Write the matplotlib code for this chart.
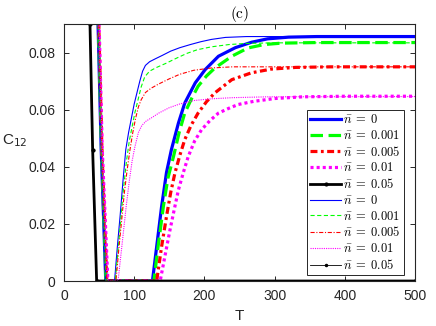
import matplotlib
matplotlib.use("Agg")
import matplotlib.pyplot as plt

plt.rcParams['font.family'] = ['Liberation Sans', 'DejaVu Sans']
plt.rcParams['mathtext.fontset'] = 'cm'
plt.rcParams['lines.scale_dashes'] = False

# ---------------- data ----------------
labels = [r'$\bar{n}\;=\;0$', r'$\bar{n}\;=\;0.001$', r'$\bar{n}\;=\;0.005$',
          r'$\bar{n}\;=\;0.01$', r'$\bar{n}\;=\;0.05$']

# low-temperature descending branch (shared by both curve families)
T_desc_0 = [47.0, 48.5, 53.0, 59.5]
C_desc_0 = [0.105, 0.090, 0.046, 0.0]
T_desc_1 = [47.5, 49.0, 53.5, 60.0]
C_desc_1 = [0.105, 0.090, 0.046, 0.0]
T_desc_5 = [48.0, 49.5, 54.0, 61.0]
C_desc_5 = [0.105, 0.090, 0.046, 0.0]
T_desc_10 = [48.5, 50.0, 54.5, 62.5]
C_desc_10 = [0.105, 0.090, 0.046, 0.0]
T_desc_50 = [35.5, 37.0, 40.8, 46.5]
C_desc_50 = [0.105, 0.090, 0.046, 0.0]

# thick curves (late revival)
T_thick_0 = [126, 132, 139, 146, 153, 163, 172, 187, 201, 220, 244, 267, 290, 320, 360, 500]
C_thick_0 = [0.0, 0.012, 0.026, 0.038, 0.046, 0.0553, 0.0623, 0.0694, 0.074, 0.0787,
             0.0817, 0.0836, 0.0848, 0.0854, 0.0856, 0.0856]
T_thick_1 = [128, 134, 141.5, 148, 156, 164, 172, 182, 191, 203, 215, 239, 262, 285, 310, 360, 500]
C_thick_1 = [0.0, 0.012, 0.026, 0.036, 0.0436, 0.052, 0.0588, 0.064, 0.0682, 0.0718,
             0.0746, 0.0787, 0.0816, 0.0828, 0.0833, 0.0835, 0.0835]
T_thick_5 = [132, 139, 146, 152, 158, 165, 172, 181, 191, 203, 215, 239, 267, 295, 330, 380, 500]
C_thick_5 = [0.0, 0.012, 0.0226, 0.031, 0.0378, 0.044, 0.0495, 0.0545, 0.0588, 0.0628,
             0.0659, 0.0705, 0.0729, 0.0742, 0.0748, 0.075, 0.075]
T_thick_10 = [137, 144, 151, 157, 163, 170, 177, 186, 196, 208, 220, 235, 248, 270, 300, 340, 400, 500]
C_thick_10 = [0.0, 0.009, 0.0179, 0.025, 0.0319, 0.038, 0.0436, 0.049, 0.053, 0.0562,
              0.0588, 0.0605, 0.0618, 0.0629, 0.0639, 0.0645, 0.0647, 0.0647]
T_thick_50 = [500]
C_thick_50 = [0.0]

# thin curves (early revival)
T_thin_0 = [72, 76, 80, 84, 88, 92, 96, 100, 104, 108, 112, 116, 122, 130, 140, 152,
            165, 180, 195, 210, 230, 260, 500]
C_thin_0 = [0.0, 0.012, 0.023, 0.035, 0.046, 0.052, 0.057, 0.062, 0.066, 0.070, 0.0735,
            0.0755, 0.0768, 0.0778, 0.079, 0.0805, 0.0817, 0.0828, 0.0838, 0.0846,
            0.0853, 0.0856, 0.0856]
T_thin_1 = [73, 77, 81, 85, 89, 93, 97, 101, 105, 110, 115, 122, 132, 145, 160, 175,
            190, 210, 235, 260, 300, 500]
C_thin_1 = [0.0, 0.011, 0.022, 0.033, 0.042, 0.049, 0.054, 0.059, 0.063, 0.068, 0.0715,
            0.0735, 0.0748, 0.0762, 0.078, 0.0797, 0.081, 0.082, 0.0828, 0.0832,
            0.0834, 0.0834]
T_thin_5 = [74, 78, 82, 86, 90, 94, 98, 102, 106, 110, 116, 124, 135, 150, 165, 185,
            210, 240, 500]
C_thin_5 = [0.0, 0.011, 0.021, 0.031, 0.039, 0.046, 0.052, 0.057, 0.061, 0.0635, 0.066,
            0.0675, 0.069, 0.0708, 0.0724, 0.0738, 0.0746, 0.075, 0.075]
T_thin_10 = [77, 81, 85, 89, 93, 97, 101, 106, 111, 117, 125, 135, 150, 165, 185, 210,
             240, 290, 500]
C_thin_10 = [0.0, 0.009, 0.018, 0.027, 0.035, 0.042, 0.047, 0.052, 0.0545, 0.056,
             0.0572, 0.0588, 0.0607, 0.062, 0.0632, 0.0638, 0.0642, 0.0645, 0.0646]
T_thin_50 = [500]
C_thin_50 = [0.0]

x_ticks = [0, 100, 200, 300, 400, 500]
y_ticks = [0, 0.02, 0.04, 0.06, 0.08]
y_ticklabels = ['0', '0.02', '0.04', '0.06', '0.08']

# ---------------- plotting ----------------
fig = plt.figure(figsize=(4.36, 3.26), dpi=100)
ax = fig.add_axes([0.1468, 0.138, 0.805, 0.7884])

desc = [(T_desc_0, C_desc_0), (T_desc_1, C_desc_1), (T_desc_5, C_desc_5),
        (T_desc_10, C_desc_10), (T_desc_50, C_desc_50)]
thick = [(T_thick_0, C_thick_0), (T_thick_1, C_thick_1), (T_thick_5, C_thick_5),
         (T_thick_10, C_thick_10), (T_thick_50, C_thick_50)]
thin = [(T_thin_0, C_thin_0), (T_thin_1, C_thin_1), (T_thin_5, C_thin_5),
        (T_thin_10, C_thin_10), (T_thin_50, C_thin_50)]

colors = ['#0000ff', '#00ff00', '#ff0000', '#ff00ff', '#000000']
thick_styles = [dict(ls='-', lw=2.3),
                dict(ls=(0, (9, 4)), lw=2.3),
                dict(ls=(0, (5, 2.5, 2, 2.5)), lw=2.3),
                dict(ls=(0, (2.2, 2.2)), lw=2.3),
                dict(ls='-', marker='.', ms=4, lw=2.0)]
thin_styles = [dict(ls='-', lw=0.8),
               dict(ls=(0, (3, 1.8)), lw=0.8),
               dict(ls=(0, (3, 1.2, 0.8, 1.2)), lw=0.8),
               dict(ls=(0, (0.8, 0.8)), lw=0.8),
               dict(ls='-', marker='.', ms=3, lw=0.6)]

handles = []
for (td, cd), (tr, cr), c, st, lab in zip(desc, thick, colors, thick_styles, labels):
    h, = ax.plot(td + tr, cd + cr, color=c, label=lab, **st)
    handles.append(h)
for (td, cd), (tr, cr), c, st, lab in zip(desc, thin, colors, thin_styles, labels):
    h, = ax.plot(td + tr, cd + cr, color=c, label=lab, **st)
    handles.append(h)

ax.set_xlim(0, 500)
ax.set_ylim(0, 0.09)
ax.set_xticks(x_ticks)
ax.set_yticks(y_ticks)
ax.set_yticklabels(y_ticklabels)

axcol = '#262626'
for s in ax.spines.values():
    s.set_color(axcol)
    s.set_linewidth(0.8)
ax.tick_params(direction='in', top=True, right=True, length=3.5, width=0.7,
               colors=axcol, labelsize=10, pad=6)

ax.set_title(r'$\mathrm{(c)}$', fontsize=11, pad=4, color='k')
ax.set_xlabel('T', fontsize=11, color=axcol, labelpad=4)
yl = ax.set_ylabel('C$_{12}$', fontsize=11, rotation=0, color=axcol, ha='center', va='center')
yl.set_math_fontfamily('dejavusans')
ax.yaxis.set_label_coords(-0.14, 0.545)

leg = ax.legend(handles=handles, loc='lower right', bbox_to_anchor=(0.969, 0.023),
                borderaxespad=0, fontsize=9, fancybox=False, framealpha=1,
                edgecolor=axcol, handlelength=2.45, handletextpad=0.2,
                labelspacing=0.22, borderpad=0.25, numpoints=1)
leg.get_frame().set_linewidth(0.7)

fig.savefig('out.png', dpi=100)
